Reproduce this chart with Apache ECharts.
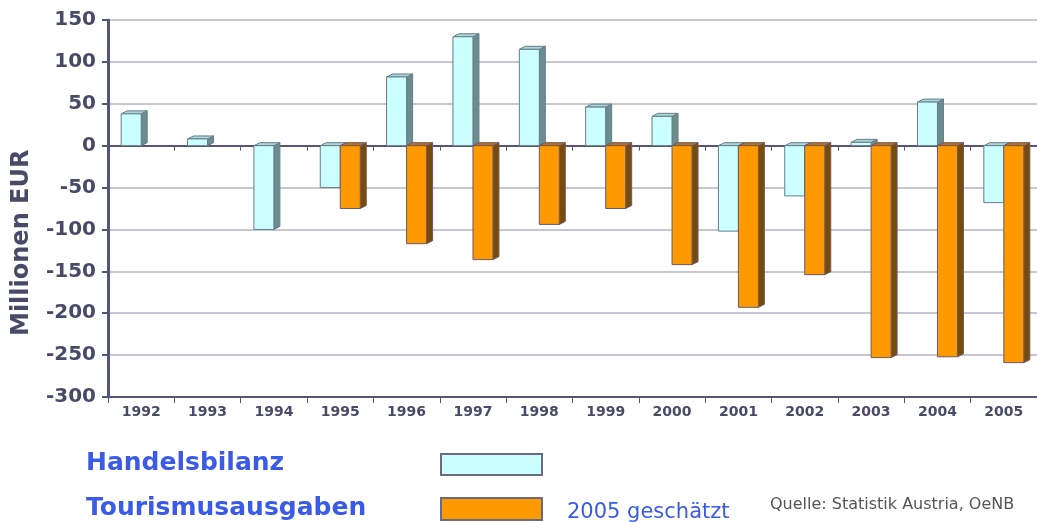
<!DOCTYPE html>
<html>
<head>
<meta charset="utf-8">
<script src="https://cdn.jsdelivr.net/npm/echarts@6/dist/echarts.min.js"></script>
<style>
  html, body { margin: 0; padding: 0; background: #fff; }
  #box { width: 1037px; height: 522px; }
</style>
</head>
<body>
<div id="box"></div>
<script>
// Jahre (Kategorien)
var years = ["1992", "1993", "1994", "1995", "1996", "1997", "1998", "1999", "2000", "2001", "2002", "2003", "2004", "2005"];
// Handelsbilanz, Mio EUR
var handelsbilanz = [38, 8, -100, -50, 82, 130, 115, 46, 35, -102, -60, 4, 52, -68];
// Tourismusausgaben, Mio EUR (2005 geschätzt)
var tourismus = [null, null, null, -75, -117, -136, -94, -75, -142, -193, -154, -253, -252, -259];

var axisColor = "#55557a";
var textColor = "#4a4a68";

// Balken mit 3D-Seite zeichnen
function bar3d(offset, face, side, top, stroke) {
  return function (params, api) {
    var i = api.value(0);
    var v = api.value(1);
    var p0 = api.coord([i, 0]);
    var p1 = api.coord([i, v]);
    var w = 20, d = 6, h = 3;
    var x0 = p0[0] + offset, x1 = x0 + w;
    var yT = Math.min(p0[1], p1[1]);
    var yB = Math.max(p0[1], p1[1]);
    return {
      type: "group",
      children: [
        { type: "polygon", shape: { points: [[x1, yT], [x1 + d, yT - h], [x1 + d, yB - h], [x1, yB]] },
          style: { fill: side, stroke: stroke, lineWidth: 1 } },
        { type: "polygon", shape: { points: [[x0, yT], [x0 + d, yT - h], [x1 + d, yT - h], [x1, yT]] },
          style: { fill: top, stroke: stroke, lineWidth: 1 } },
        { type: "rect", shape: { x: x0, y: yT, width: w, height: yB - yT },
          style: { fill: face, stroke: stroke, lineWidth: 1 } }
      ]
    };
  };
}

function toData(arr) {
  var out = [];
  arr.forEach(function (v, i) {
    if (v !== null) out.push([i, v]);
  });
  return out;
}

var myChart = echarts.init(document.getElementById("box"));
var option = {
  backgroundColor: "#fff",
  animation: false,
  grid: { left: 108, right: -4, top: 20, bottom: 125 },
  xAxis: [
    {
      type: "category",
      data: years,
      axisLine: { lineStyle: { color: axisColor, width: 2 } },
      axisTick: { show: true, length: 5, lineStyle: { color: axisColor } },
      axisLabel: { color: textColor, fontFamily: "DejaVu Sans", fontWeight: "bold", fontSize: 14, margin: 8 },
      splitLine: { show: false }
    },
    {
      type: "category",
      data: years,
      position: "bottom",
      axisLine: { onZero: true, lineStyle: { color: axisColor, width: 2 } },
      axisTick: { show: true, length: 6, lineStyle: { color: axisColor } },
      axisLabel: { show: false },
      splitLine: { show: false }
    }
  ],
  yAxis: {
    type: "value",
    min: -300,
    max: 150,
    interval: 50,
    axisLine: { show: true, lineStyle: { color: axisColor, width: 3 } },
    axisTick: { show: true, length: 6, lineStyle: { color: axisColor, width: 2 } },
    axisLabel: { color: textColor, fontFamily: "DejaVu Sans", fontWeight: "bold", fontSize: 20, margin: 12 },
    splitLine: { lineStyle: { color: "#b4b4c4", width: 1.5 } }
  },
  graphic: [
    { type: "text", x: 10, y: 336, rotation: Math.PI / 2,
      style: { text: "Millionen EUR", fill: textColor, font: "bold 24px 'DejaVu Sans'", textVerticalAlign: "top" } },
    { type: "text", left: 86, top: 451, style: { text: "Handelsbilanz", fill: "#3a5ae8", font: "bold 25px 'DejaVu Sans'" } },
    { type: "rect", left: 440, top: 453, shape: { width: 101, height: 21 }, style: { fill: "#ccffff", stroke: "#6a6a80", lineWidth: 2 } },
    { type: "text", left: 86, top: 496, style: { text: "Tourismusausgaben", fill: "#3a5ae8", font: "bold 25px 'DejaVu Sans'" } },
    { type: "rect", left: 440, top: 497, shape: { width: 101, height: 22 }, style: { fill: "#ff9900", stroke: "#6a6a80", lineWidth: 2 } },
    { type: "text", left: 567, top: 502, style: { text: "2005 geschätzt", fill: "#3a5ae8", font: "21px 'DejaVu Sans'" } },
    { type: "text", left: 770, top: 497, style: { text: "Quelle: Statistik Austria, OeNB", fill: "#555", font: "16px 'DejaVu Sans'" } }
  ],
  series: [
    {
      name: "Handelsbilanz",
      type: "custom",
      renderItem: bar3d(-20, "#ccffff", "#6a8e8e", "#a8d8d8", "#6a7a8a"),
      data: toData(handelsbilanz)
    },
    {
      name: "Tourismusausgaben",
      type: "custom",
      renderItem: bar3d(0, "#ff9900", "#7a4a08", "#c07010", "#6a5a6a"),
      data: toData(tourismus)
    }
  ]
};
myChart.setOption(option);
</script>
</body>
</html>
